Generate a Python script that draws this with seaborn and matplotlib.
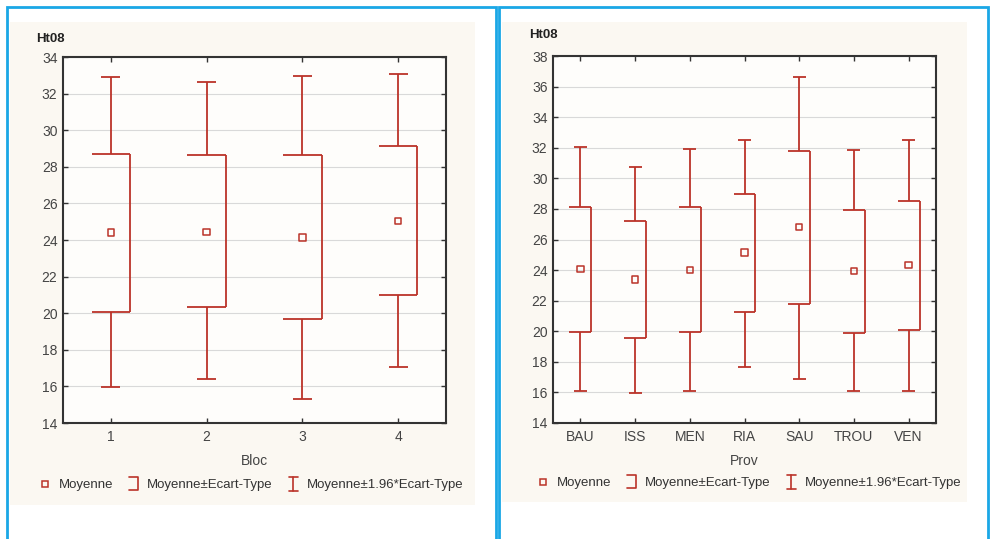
import numpy as np
import pandas as pd
import matplotlib
matplotlib.use('Agg')
import matplotlib.pyplot as plt
import seaborn as sns
from matplotlib.lines import Line2D
from matplotlib.patches import Rectangle
from matplotlib.legend_handler import HandlerBase

# %% données
bloc = ['1', '2', '3', '4']
bloc_moy = [24.42, 24.45, 24.13, 25.05]
bloc_sd_bas = [20.05, 20.33, 19.69, 21.0]
bloc_sd_haut = [28.71, 28.62, 28.62, 29.13]
bloc_ic_bas = [15.95, 16.38, 15.33, 17.04]
bloc_ic_haut = [32.89, 32.65, 32.95, 33.05]

prov = ['BAU', 'ISS', 'MEN', 'RIA', 'SAU', 'TROU', 'VEN']
prov_moy = [24.08, 23.38, 24.0, 25.15, 26.81, 23.93, 24.32]
prov_sd_bas = [19.98, 19.59, 19.98, 21.24, 21.75, 19.91, 20.11]
prov_sd_haut = [28.12, 27.22, 28.12, 28.97, 31.78, 27.96, 28.51]
prov_ic_bas = [16.07, 15.99, 16.07, 17.64, 16.9, 16.07, 16.07]
prov_ic_haut = [32.04, 30.76, 31.91, 32.52, 36.63, 31.87, 32.52]

ROUGE = '#bb3329'
BLEU = '#1aa7e6'
BEIGE = '#fbf8f2'

sns.set_theme(style='white')
plt.rcParams['font.family'] = ['Liberation Sans', 'DejaVu Sans']


class HandlerCrochet(HandlerBase):
    def create_artists(self, legend, orig, xd, yd, w, h, fontsize, trans):
        x0, x1 = xd + w * 0.25, xd + w * 0.75
        y0, y1 = yd - h * 0.25, yd + h * 1.15
        return [Line2D([x0, x1, x1, x0], [y1, y1, y0, y0], color=ROUGE,
                       lw=1.2, transform=trans)]


class HandlerErreur(HandlerBase):
    def create_artists(self, legend, orig, xd, yd, w, h, fontsize, trans):
        xc = xd + w * 0.5
        dx = w * 0.25
        y0, y1 = yd - h * 0.35, yd + h * 1.2
        return [Line2D([xc, xc], [y0, y1], color=ROUGE, lw=1.2, transform=trans),
                Line2D([xc - dx, xc + dx], [y0, y0], color=ROUGE, lw=1.2, transform=trans),
                Line2D([xc - dx, xc + dx], [y1, y1], color=ROUGE, lw=1.2, transform=trans)]


W, H = 990, 539
fig = plt.figure(figsize=(W / 100, H / 100), dpi=100)
fig.patch.set_facecolor('white')


def px(x0, y0, x1, y1):
    # pixels (origine en haut à gauche) -> coordonnées figure
    return [x0 / W, 1 - y1 / H, (x1 - x0) / W, (y1 - y0) / H]


# cadres bleus et fonds beiges (derrière les axes)
for bx0, bx1, fx0, fx1, fy1 in [(7, 496, 10, 475, 505), (499, 988, 502, 967, 502)]:
    fig.patches.append(Rectangle((fx0 / W, 1 - fy1 / H), (fx1 - fx0) / W, (fy1 - 22) / H,
                                 transform=fig.transFigure, facecolor=BEIGE,
                                 edgecolor='none', zorder=-2))
    fig.patches.append(Rectangle((bx0 / W, -0.01), (bx1 - bx0) / W, 1 - 7 / H + 0.01,
                                 transform=fig.transFigure, fill=False,
                                 edgecolor=BLEU, lw=2.0, zorder=-1))


def panneau(rect, cats, moy, sd_b, sd_h, ic_b, ic_h, ylim, yticks, xlabel,
            titre_xy, leg_xy, cap):
    ax = fig.add_axes(px(*rect))
    ax.set_facecolor('#fefdfb')
    df = pd.DataFrame({'cat': cats, 'moy': moy})
    pos = np.arange(len(cats))
    # moyenne ± 1.96*écart-type
    ax.vlines(pos, ic_b, sd_b, color=ROUGE, lw=1.3, zorder=3)
    ax.vlines(pos, sd_h, ic_h, color=ROUGE, lw=1.3, zorder=3)
    ax.hlines(ic_b, pos - cap, pos + cap, color=ROUGE, lw=1.3, zorder=3)
    ax.hlines(ic_h, pos - cap, pos + cap, color=ROUGE, lw=1.3, zorder=3)
    # moyenne ± écart-type (crochet)
    ax.hlines(sd_b, pos - 0.2, pos + 0.2, color=ROUGE, lw=1.3, zorder=3)
    ax.hlines(sd_h, pos - 0.2, pos + 0.2, color=ROUGE, lw=1.3, zorder=3)
    ax.vlines(pos + 0.2, sd_b, sd_h, color=ROUGE, lw=1.3, zorder=3)
    sns.scatterplot(data=df, x='cat', y='moy', ax=ax, marker='s', s=22,
                    facecolor='none', edgecolor=ROUGE, linewidth=1.1, zorder=4)
    ax.set_xlim(-0.5, len(cats) - 0.5)
    ax.set_ylim(*ylim)
    ax.set_yticks(yticks)
    ax.yaxis.grid(True, color='#d9d9d9', lw=0.8)
    ax.set_axisbelow(True)
    for s in ax.spines.values():
        s.set_color('#333333')
        s.set_linewidth(1.5)
    ax.tick_params(direction='in', length=3.5, width=1, color='#333333',
                   top=True, right=True, left=True, bottom=True,
                   labelsize=10, labelcolor='#444444', pad=4)
    ax.tick_params(axis='x', pad=5)
    ax.set_xlabel(xlabel, fontsize=10, color='#444444', labelpad=7)
    ax.set_ylabel('')
    fig.text(titre_xy[0] / W, 1 - titre_xy[1] / H, 'Ht08', fontsize=9.5,
             fontweight='bold', va='center', ha='left', color='#222222')
    handles = [Line2D([], [], marker='s', ls='none', markersize=4,
                      markerfacecolor='none', markeredgecolor=ROUGE, mew=1.1),
               Line2D([], []), Line2D([], [])]
    labels = ['Moyenne', 'Moyenne±Ecart-Type', 'Moyenne±1.96*Ecart-Type']
    fig.legend(handles, labels, loc='center',
               bbox_to_anchor=(leg_xy[0] / W, 1 - leg_xy[1] / H),
               ncol=3, frameon=False, fontsize=9.5, handlelength=1.3,
               handletextpad=0.4, columnspacing=0.9,
               handler_map={handles[1]: HandlerCrochet(),
                            handles[2]: HandlerErreur()},
               labelcolor='#333333')
    return ax


panneau((63, 57, 446, 423), bloc, bloc_moy, bloc_sd_bas, bloc_sd_haut,
        bloc_ic_bas, bloc_ic_haut, (14, 34), range(14, 35, 2), 'Bloc',
        (36, 39), (250, 485), 0.1)
panneau((553, 56, 936, 423), prov, prov_moy, prov_sd_bas, prov_sd_haut,
        prov_ic_bas, prov_ic_haut, (14, 38), range(14, 39, 2), 'Prov',
        (529, 35), (748, 483), 0.12)

fig.savefig('out.png', dpi=100)
